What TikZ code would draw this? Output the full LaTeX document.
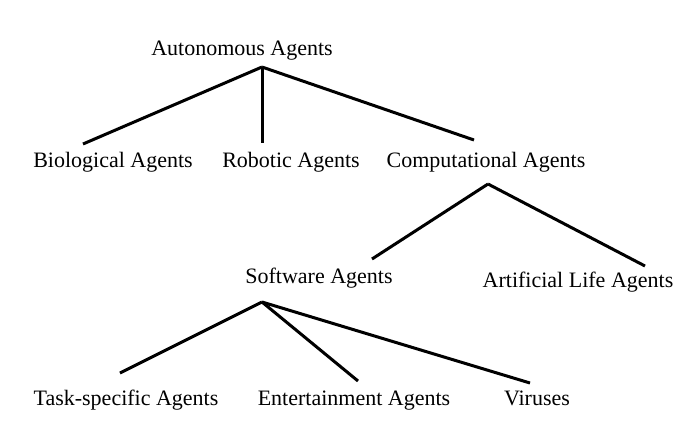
\documentclass[tikz,border=0pt]{standalone}
\usepackage{fontspec}
\setmainfont{Liberation Serif}
\begin{document}
\begin{tikzpicture}[x=1pt,y=-1pt,
  lbl/.style={inner sep=0pt,anchor=base,font=\fontsize{22}{26}\selectfont},
  branch/.style={line width=3pt}]
\useasboundingbox (0,0) rectangle (699,424);
\fill[white] (0,0) rectangle (699,424);
% labels (positioned at their baselines)
\node[lbl] (aut) at (242,55) {Autonomous Agents};
\node[lbl] (bio) at (113,167) {Biological Agents};
\node[lbl] (rob) at (291,167) {Robotic Agents};
\node[lbl] (com) at (486,167) {Computational Agents};
\node[lbl] (sof) at (319,283) {Software Agents};
\node[lbl] (art) at (578,287) {Artificial Life Agents};
\node[lbl] (tas) at (126,405) {Task-specific Agents};
\node[lbl] (ent) at (354,405) {Entertainment Agents};
\node[lbl] (vir) at (537,405) {Viruses};
% junction points
\coordinate (aut-j) at (262,67);
\coordinate (bio-j) at (83,144);
\coordinate (rob-j) at (262,143);
\coordinate (com-t) at (474,140);
\coordinate (com-j) at (488,184);
\coordinate (sof-t) at (372,259);
\coordinate (art-j) at (645,266);
\coordinate (sof-j) at (262,302);
\coordinate (tas-j) at (120,373);
\coordinate (ent-j) at (358,381);
\coordinate (vir-j) at (530,383);
% connectors
\draw[branch] (aut-j) -- (bio-j);
\draw[branch] (aut-j) -- (rob-j);
\draw[branch] (aut-j) -- (com-t);
\draw[branch] (com-j) -- (sof-t);
\draw[branch] (com-j) -- (art-j);
\draw[branch] (sof-j) -- (tas-j);
\draw[branch] (sof-j) -- (ent-j);
\draw[branch] (sof-j) -- (vir-j);
\end{tikzpicture}
\end{document}
